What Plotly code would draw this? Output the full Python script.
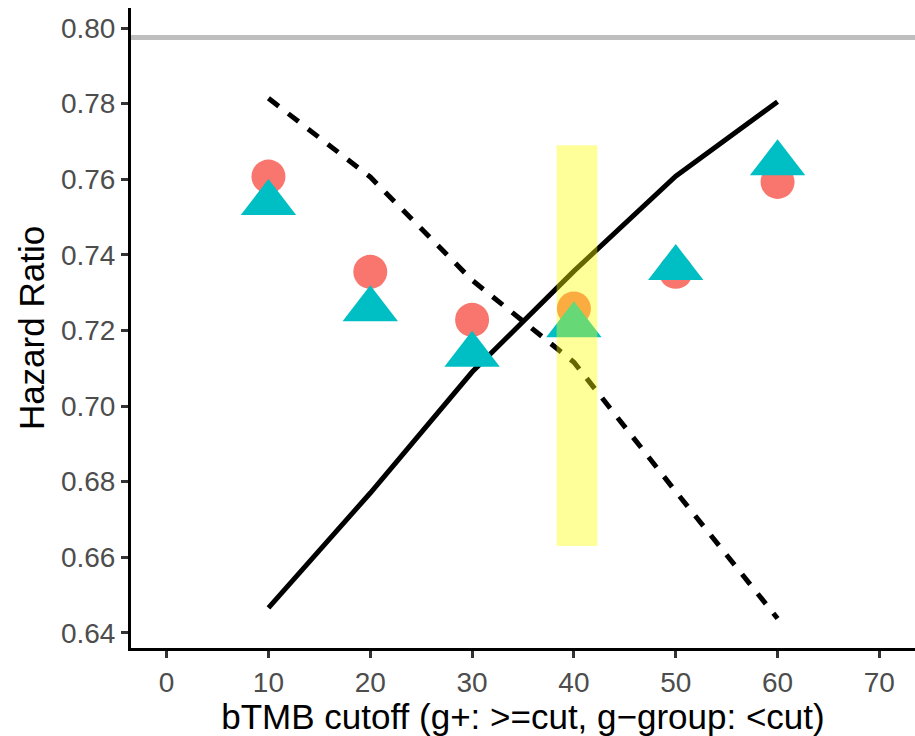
import plotly.graph_objects as go

# ---- data ----
cutoffs = [10, 20, 30, 40, 50, 60]
hr_circle = [0.7607, 0.7355, 0.7228, 0.7258, 0.7355, 0.7593]
hr_triangle = [0.7537, 0.7256, 0.7136, 0.7214, 0.7365, 0.7642]
line_solid = [0.6466, 0.6770, 0.7090, 0.7357, 0.7608, 0.7805]
line_dashed = [0.7814, 0.7606, 0.7333, 0.7116, 0.6774, 0.6438]
ref_hr = 0.7975
highlight_x = [38.3, 42.3]
highlight_y = [0.663, 0.769]
x_ticks = [0, 10, 20, 30, 40, 50, 60, 70]
y_ticks = [0.64, 0.66, 0.68, 0.70, 0.72, 0.74, 0.76, 0.78, 0.80]

fig = go.Figure()

fig.add_trace(go.Scatter(x=cutoffs, y=line_solid, mode="lines",
                         line=dict(color="black", width=5), showlegend=False))
fig.add_trace(go.Scatter(x=cutoffs, y=line_dashed, mode="lines",
                         line=dict(color="black", width=5, dash="13px,12px"), showlegend=False))
fig.add_trace(go.Scatter(x=cutoffs, y=hr_circle, mode="markers",
                         marker=dict(symbol="circle", size=34, color="#F8766D", line=dict(width=0)),
                         showlegend=False))
fig.add_trace(go.Scatter(x=cutoffs, y=hr_triangle, mode="markers",
                         marker=dict(symbol="triangle-up", size=48, color="#00BFC4", line=dict(width=0)),
                         showlegend=False))

# reference horizontal line
fig.add_shape(type="line", xref="paper", x0=0, x1=1, yref="y", y0=ref_hr, y1=ref_hr,
              line=dict(color="#BEBEBE", width=5), layer="below")
# highlight rectangle
fig.add_shape(type="rect", xref="x", yref="y",
              x0=highlight_x[0], x1=highlight_x[1], y0=highlight_y[0], y1=highlight_y[1],
              fillcolor="rgba(255,255,0,0.4)", line=dict(width=0), layer="above")

tickfont = dict(family="Liberation Sans, Arial, sans-serif", size=28, color="#4D4D4D")
titlefont = dict(family="Liberation Sans, Arial, sans-serif", size=35, color="black")

fig.update_layout(
    width=915, height=736,
    margin=dict(l=131, r=0, t=8, b=88),
    paper_bgcolor="white", plot_bgcolor="white",
    showlegend=False,
    xaxis=dict(range=[-3.5, 73.5], tickvals=x_ticks, ticktext=[str(v) for v in x_ticks],
               showgrid=False, zeroline=False, showline=True, linecolor="black", linewidth=3,
               ticks="outside", ticklen=7, tickwidth=3, tickcolor="#333333",
               tickfont=tickfont,
               title=dict(text="bTMB cutoff (g+: >=cut, g\u2212group: <cut)", font=titlefont, standoff=8)),
    yaxis=dict(range=[0.636, 0.8053], tickvals=y_ticks, ticktext=[f"{v:.2f}" for v in y_ticks],
               showgrid=False, zeroline=False, showline=True, linecolor="black", linewidth=3,
               ticks="outside", ticklen=7, tickwidth=3, tickcolor="#333333",
               tickfont=tickfont,
               title=dict(text="Hazard Ratio", font=titlefont, standoff=6)),
)

fig.write_html("out.html")
